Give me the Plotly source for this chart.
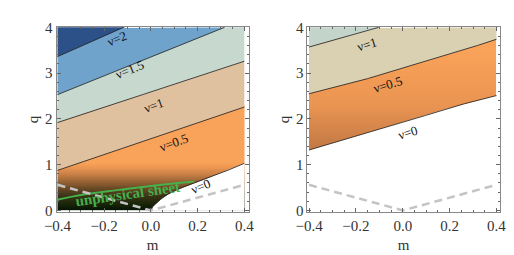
import numpy as np
import plotly.graph_objects as go

# ---------------- data ----------------
# Left panel contour boundaries (m, q)
L_v2_m = [-0.4, -0.117];   L_v2_q = [3.36, 4.0]
L_v15_m = [-0.4, 0.315];   L_v15_q = [2.53, 4.0]
L_v1_m = [-0.4, 0.4];      L_v1_q = [1.92, 3.26]
L_v05_m = [-0.4, -0.008, 0.4]; L_v05_q = [0.875, 1.54, 2.26]
L_v0_m = [0.0, 0.005, 0.02, 0.06, 0.116, 0.17, 0.28, 0.4]
L_v0_q = [0.0, 0.07, 0.15, 0.32, 0.47, 0.57, 0.77, 1.03]
# unphysical sheet (green)
sheet_m = [-0.4, -0.282, -0.145, -0.008, 0.088, 0.185]
sheet_q = [0.236, 0.354, 0.444, 0.528, 0.583, 0.632]
# dashed line
dash_m = [-0.4, 0.0, 0.4]
dash_q = [0.56, 0.0, 0.56]

# Right panel contour boundaries
R_v1_m = [-0.4, -0.103];   R_v1_q = [3.57, 4.0]
R_v05_m = [-0.4, -0.202, 0.0, 0.209, 0.4]; R_v05_q = [2.55, 2.80, 3.11, 3.42, 3.74]
R_v0_m = [-0.4, -0.243, 0.0, 0.209, 0.4];   R_v0_q = [1.32, 1.57, 1.915, 2.26, 2.51]

# contour labels: (text, m, q, angle)
L_labels = [("ν=2", -0.145, 3.76, -22), ("ν=1.5", -0.091, 3.08, -22),
            ("ν=1", 0.012, 2.29, -20), ("ν=0.5", 0.098, 1.49, -20),
            ("ν=0", 0.213, 0.52, -22)]
R_labels = [("ν=1", -0.154, 3.63, -17), ("ν=0.5", -0.064, 2.75, -17),
            ("ν=0", 0.023, 1.70, -17)]

x_tickvals = [-0.4, -0.2, 0.0, 0.2, 0.4]
x_ticktext = ["−0.4", "−0.2", "0.0", "0.2", "0.4"]
y_tickvals = [0, 1, 2, 3, 4]
y_ticktext = ["0", "1", "2", "3", "4"]

SERIF = "Liberation Serif, Times New Roman, serif"

# ---------------- figure ----------------
QMAX = 4.0
mg = np.linspace(-0.4, 0.4, 321)


def curve(m, q):
    return np.clip(np.interp(mg, m, q), 0, QMAX)


def band(lo, hi, xa, ya, color):
    x = np.concatenate([mg, mg[::-1]])
    y = np.concatenate([lo, hi[::-1]])
    return go.Scatter(x=x, y=y, mode="lines", fill="toself", line=dict(width=0),
                      fillcolor=color, hoverinfo="skip", showlegend=False, xaxis=xa, yaxis=ya)


def cline(m, q, xa, ya):
    mm = np.linspace(min(m), max(m), 200)
    qq = np.interp(mm, m, q)
    keep = qq <= QMAX
    return go.Scatter(x=mm[keep], y=qq[keep], mode="lines",
                      line=dict(color="#1a1a1a", width=0.8),
                      hoverinfo="skip", showlegend=False, xaxis=xa, yaxis=ya)


def shade(qlo, qhi, xa, ya, zmin, zmax, cs):
    # vertical colour gradient for the lowest band, mapped through the q axis
    step = 0.01
    yc = np.arange(qlo + step / 2, qhi, step)
    z = np.repeat(yc[:, None], 2, axis=1)
    return go.Heatmap(x=[-0.2, 0.2], y=yc, z=z, zmin=zmin, zmax=zmax, colorscale=cs,
                      showscale=False, hoverinfo="skip", xaxis=xa, yaxis=ya)


fig = go.Figure()
top = np.full_like(mg, QMAX)
bottom = np.zeros_like(mg)

# left panel
l2 = curve(L_v2_m, L_v2_q)
l15 = curve(L_v15_m, L_v15_q)
l1 = curve(L_v1_m, L_v1_q)
l05 = curve(L_v05_m, L_v05_q)
l0 = curve(L_v0_m, L_v0_q)
fig.add_trace(shade(0.0, 2.3, "x", "y", 0.0, 1.05,
                    [[0, "#061404"], [0.12, "#172408"], [0.3, "#3c3417"], [0.45, "#684824"],
                     [0.6, "#9a6436"], [0.75, "#c98046"], [0.9, "#ee9853"], [1, "#f9a259"]]))
fig.add_trace(band(l2, top, "x", "y", "#2c5189"))
fig.add_trace(band(l15, l2, "x", "y", "#6fa3cc"))
fig.add_trace(band(l1, l15, "x", "y", "#c7d9cf"))
fig.add_trace(band(l05, l1, "x", "y", "#dfc19f"))
fig.add_trace(band(bottom, l0, "x", "y", "white"))
for m, q in [(L_v2_m, L_v2_q), (L_v15_m, L_v15_q), (L_v1_m, L_v1_q),
             (L_v05_m, L_v05_q), (L_v0_m, L_v0_q)]:
    fig.add_trace(cline(m, q, "x", "y"))
fig.add_trace(go.Scatter(x=sheet_m, y=sheet_q, mode="lines", line=dict(color="#45b04c", width=2, shape="spline"),
                         hoverinfo="skip", showlegend=False, xaxis="x", yaxis="y"))
fig.add_trace(go.Scatter(x=dash_m, y=dash_q, mode="lines", line=dict(color="#c4c4c4", width=2.5, dash="8px,5px"),
                         hoverinfo="skip", showlegend=False, xaxis="x", yaxis="y"))

# right panel
r1 = curve(R_v1_m, R_v1_q)
r05 = curve(R_v05_m, R_v05_q)
r0 = curve(R_v0_m, R_v0_q)
fig.add_trace(shade(1.2, 3.8, "x2", "y2", 1.3, 3.5,
                    [[0, "#c07743"], [0.45, "#ea9452"], [1, "#f9a259"]]))
fig.add_trace(band(r1, top, "x2", "y2", "#c3d4cb"))
fig.add_trace(band(r05, r1, "x2", "y2", "#dad1b3"))
fig.add_trace(band(bottom, r0, "x2", "y2", "white"))
for m, q in [(R_v1_m, R_v1_q), (R_v05_m, R_v05_q), (R_v0_m, R_v0_q)]:
    fig.add_trace(cline(m, q, "x2", "y2"))
fig.add_trace(go.Scatter(x=dash_m, y=dash_q, mode="lines", line=dict(color="#c4c4c4", width=2.5, dash="8px,5px"),
                         hoverinfo="skip", showlegend=False, xaxis="x2", yaxis="y2"))

ann = []
for t, m, q, a in L_labels:
    ann.append(dict(text=t, x=m, y=q, xref="x", yref="y", showarrow=False, textangle=a,
                    font=dict(family=SERIF, size=13, color="#111")))
for t, m, q, a in R_labels:
    ann.append(dict(text=t, x=m, y=q, xref="x2", yref="y2", showarrow=False, textangle=a,
                    font=dict(family=SERIF, size=13, color="#111")))
ann.append(dict(text="<b>unphysical sheet</b>", x=-0.10, y=0.35, xref="x", yref="y", showarrow=False,
                textangle=-8, font=dict(family=SERIF, size=15, color="#45b04c")))

axfont = dict(family=SERIF, size=15, color="#333")
xcommon = dict(tickvals=x_tickvals, ticktext=x_ticktext, ticks="inside", ticklen=4,
               tickcolor="#666", showline=True, linecolor="#888", linewidth=1, mirror="ticks",
               showgrid=False, zeroline=False, tickfont=axfont,
               minor=dict(ticks="inside", ticklen=2, dtick=0.05, tick0=0, tickcolor="#666", showgrid=False),
               title=dict(text="m", font=dict(family=SERIF, size=15, color="#333"), standoff=6))
ycommon = dict(tickvals=y_tickvals, ticktext=y_ticktext, ticks="inside", ticklen=4,
               tickcolor="#666", showline=True, linecolor="#888", linewidth=1, mirror="ticks",
               showgrid=False, zeroline=False, tickfont=axfont, range=[-0.035, 4.012],
               minor=dict(ticks="inside", ticklen=2, dtick=0.2, tick0=0, tickcolor="#666", showgrid=False),
               title=dict(text="q", font=dict(family=SERIF, size=15, color="#333"), standoff=2))

ydom = [(255 - 208.5) / 255, (255 - 12.5) / 255]
fig.update_layout(
    width=514, height=255, margin=dict(l=0, r=0, t=0, b=0),
    paper_bgcolor="white", plot_bgcolor="white",
    xaxis=dict(domain=[37 / 514, 237 / 514], range=[-0.404, 0.419], anchor="y", **xcommon),
    yaxis=dict(domain=ydom, anchor="x", **ycommon),
    xaxis2=dict(domain=[298 / 514, 498 / 514], range=[-0.407, 0.4135], anchor="y2", **xcommon),
    yaxis2=dict(domain=ydom, anchor="x2", **ycommon),
    annotations=ann,
)

fig.write_html("out.html")
